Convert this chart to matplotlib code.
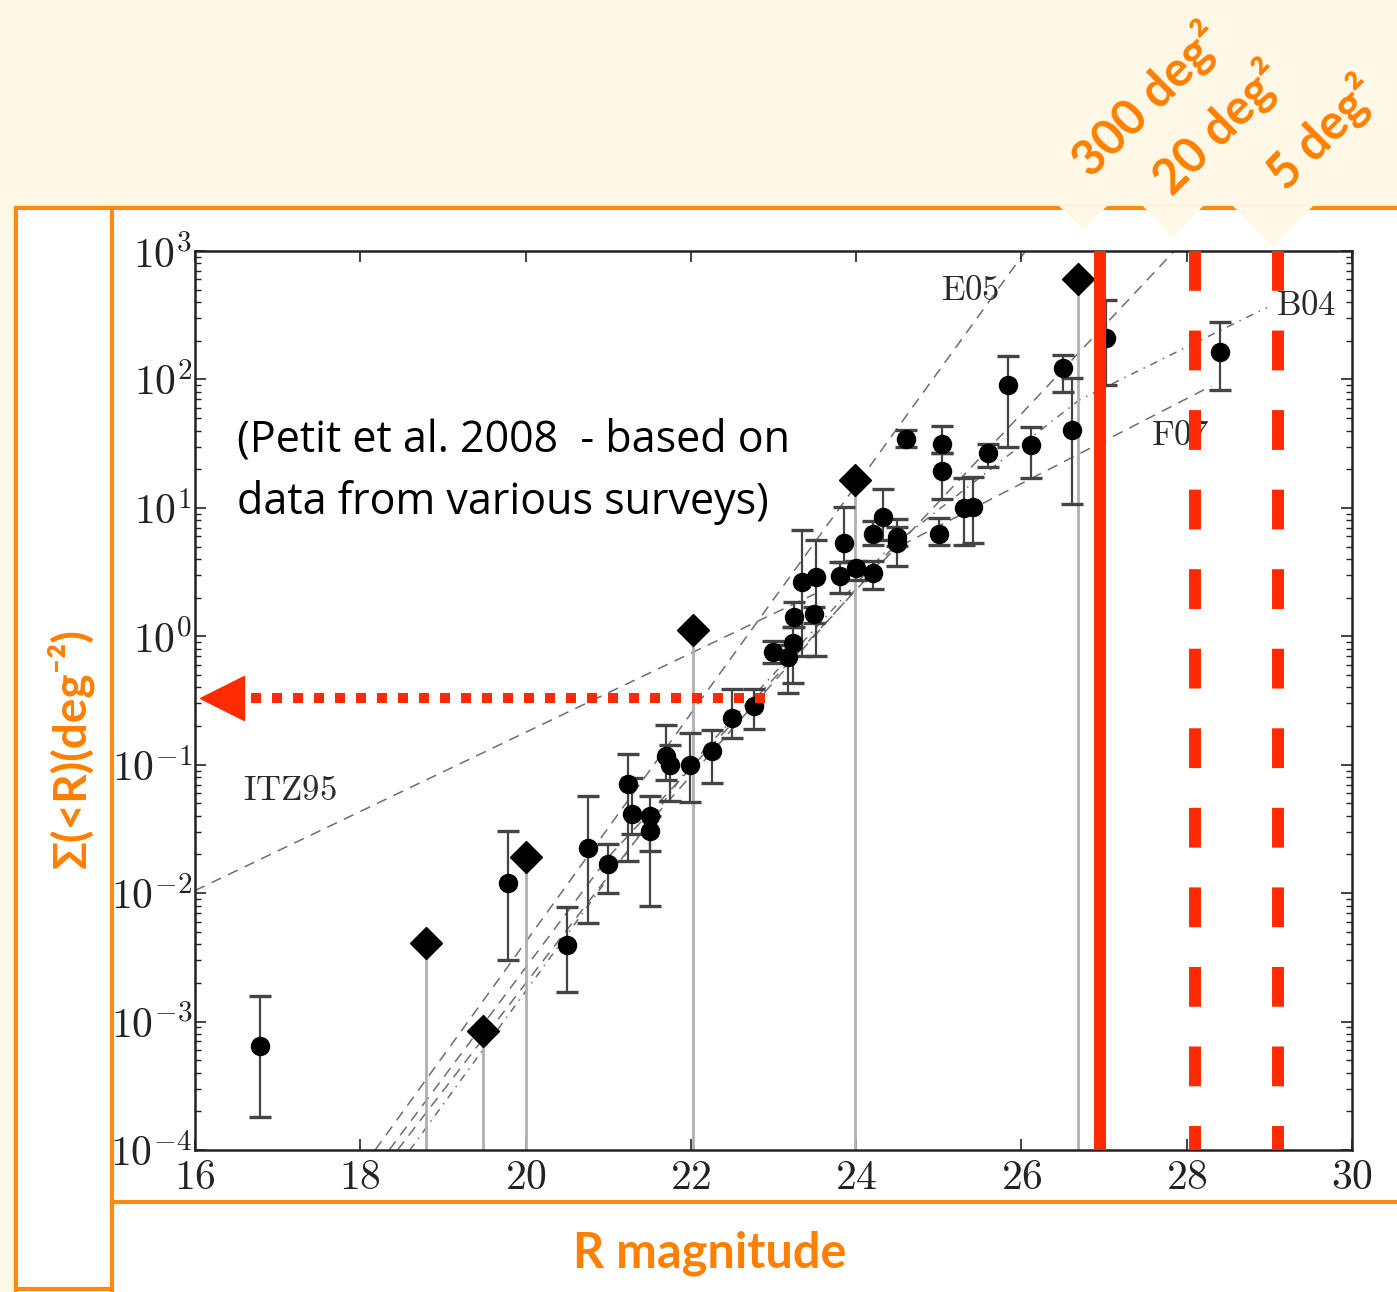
import numpy as np
import matplotlib
matplotlib.use("Agg")
import matplotlib.pyplot as plt
from matplotlib.patches import Rectangle, Polygon
from matplotlib.lines import Line2D
from matplotlib.ticker import FixedLocator, FuncFormatter, LogLocator, NullFormatter

plt.rcParams['mathtext.fontset'] = 'cm'

# ---- data (R magnitude, log10 of surface density) ----
circ_m = [16.79, 19.79, 20.50, 20.76, 21.00, 21.24, 21.29, 21.51, 21.51, 21.70,
          21.75, 21.99, 22.26, 22.50, 22.76, 23.00, 23.17, 23.24, 23.25, 23.35,
          23.51, 23.49, 23.80, 23.85, 24.00, 24.20, 24.21, 24.33, 24.50, 24.50,
          24.60, 25.00, 25.04, 25.04, 25.30, 25.42, 25.60, 25.84, 26.11, 26.50,
          26.61, 27.02, 28.40]
circ_log = [-3.19, -1.92, -2.40, -1.65, -1.77, -1.15, -1.38, -1.40, -1.52, -0.93,
            -1.00, -1.00, -0.89, -0.64, -0.54, -0.12, -0.16, -0.05, 0.15, 0.42,
            0.46, 0.17, 0.47, 0.73, 0.53, 0.49, 0.80, 0.93, 0.73, 0.77,
            1.54, 0.80, 1.29, 1.50, 1.00, 1.01, 1.43, 1.96, 1.49, 2.09,
            1.61, 2.32, 2.21]
circ_log_hi = [-2.80, -1.52, -2.11, -1.24, -1.62, -0.92, -1.10, -1.24, -1.40, -0.69,
               -0.85, -0.75, -0.73, -0.41, -0.41, -0.04, -0.07, 0.07, 0.27, 0.83,
               0.75, 0.23, 0.58, 1.01, 0.59, 0.59, 0.90, 1.15, 0.91, 0.85,
               1.61, 0.92, 1.43, 1.64, 1.23, 1.24, 1.50, 2.18, 1.63, 2.19,
               2.01, 2.62, 2.45]
circ_log_lo = [-3.74, -2.52, -2.77, -2.23, -2.00, -1.75, -1.54, -1.67, -2.10, -1.12,
               -1.28, -1.29, -1.14, -0.79, -0.72, -0.21, -0.44, -0.36, 0.07, -0.15,
               -0.15, 0.10, 0.34, 0.58, 0.44, 0.37, 0.71, 0.75, 0.55, 0.70,
               1.47, 0.71, 1.07, 1.43, 0.71, 0.73, 1.32, 1.47, 1.23, 1.90,
               1.03, 1.96, 1.92]

dia_m = [18.80, 19.49, 20.00, 22.02, 23.99, 26.69]
dia_log = [-2.39, -3.07, -1.72, 0.05, 1.22, 2.78]

# model curves (anchor points)
itz_m, itz_log = [16.0, 23.5], [-1.98, 0.33]
e05_m, e05_log = [18.18, 26.05], [-4.0, 3.0]
c_m, c_log = [18.35, 21.0, 24.07, 27.85], [-4.0, -1.72, 0.41, 3.0]
b04_m, b04_log = [18.6, 22.0, 24.37, 26.7, 28.97], [-4.0, -1.0, 0.67, 1.84, 2.56]
f07_m, f07_log = [18.45, 21.5, 24.4, 28.3], [-4.0, -1.45, 0.66, 1.95]

labels = ['E05', 'ITZ95', 'F07', 'B04']
label_m = [25.38, 17.15, 27.92, 29.44]
label_log = [2.70, -1.20, 1.57, 2.58]

survey_m = [26.95, 28.1, 29.1]
survey_names = ['300 deg²', '20 deg²', '5 deg²']
arrow_m = [22.9, 16.55]
arrow_level = 0.33

x_ticks = [16, 18, 20, 22, 24, 26, 28, 30]

# ---- styling ----
W, H = 1397, 1292
CREAM = '#fff8e6'
ORANGE = '#ff8a10'
TXT_OR = '#ff8000'
RED = '#ff2a00'


def fx(p):
    return p / W


def fy(p):
    return 1 - p / H


fig = plt.figure(figsize=(W / 100, H / 100), dpi=100, facecolor=CREAM)

fig.add_artist(Rectangle((fx(16), fy(1292)), fx(1397) - fx(16), fy(208) - fy(1292),
                         facecolor='white', edgecolor='none',
                         transform=fig.transFigure, zorder=-5))
for xs, ys in [((16, 1397), (208, 208)), ((16, 16), (208, 1292)),
               ((112, 112), (208, 1292)), ((16, 112), (1289, 1289)),
               ((112, 1397), (1202, 1202))]:
    fig.add_artist(Line2D([fx(v) for v in xs], [fy(v) for v in ys], color=ORANGE,
                          lw=3, transform=fig.transFigure, zorder=-4))
# callout notches under the survey labels
for cx, hw, tip in [(1083, 24, 230), (1173, 30, 238), (1273, 40, 246)]:
    fig.add_artist(Polygon([(fx(cx - hw), fy(206)), (fx(cx + hw), fy(206)),
                            (fx(cx), fy(tip))], closed=True, facecolor=CREAM,
                           edgecolor='none', transform=fig.transFigure, zorder=-3))

ax = fig.add_axes([fx(195), fy(1150), fx(1352) - fx(195), fy(251) - fy(1150)])
ax.set_facecolor('white')

# model lines
dash_kw = dict(color='#6e6e6e', lw=1.1, zorder=1)
ax.plot(itz_m, 10 ** np.array(itz_log), dashes=(7, 5), **dash_kw)
ax.plot(e05_m, 10 ** np.array(e05_log), dashes=(7, 5), **dash_kw)
ax.plot(c_m, 10 ** np.array(c_log), dashes=(7, 5), **dash_kw)
ax.plot(f07_m, 10 ** np.array(f07_log), dashes=(7, 5), **dash_kw)
ax.plot(b04_m, 10 ** np.array(b04_log), dashes=(5, 4, 1, 4), **dash_kw)

for t, m, lg in zip(labels, label_m, label_log):
    ax.text(m, 10 ** lg, r'$\mathrm{%s}$' % t, fontsize=25, color='#2a2a2a',
            ha='center', va='center', zorder=2)

# data
cv = 10 ** np.array(circ_log)
chi = 10 ** np.array(circ_log_hi)
clo = 10 ** np.array(circ_log_lo)
ax.errorbar(circ_m, cv, yerr=[cv - clo, chi - cv], fmt='o', color='black', ms=13,
            ecolor='#444444', elinewidth=1.6, capsize=8, capthick=2.4, zorder=3)
dv = 10 ** np.array(dia_log)
ax.vlines(dia_m, 1e-4, dv, color='#b0b0b0', lw=2, zorder=2)
ax.plot(dia_m, dv, 'D', color='black', ms=16, zorder=4)

# survey limits
ax.plot([survey_m[0]] * 2, [1e3, 1e-4], color=RED, lw=8.6, zorder=6,
        solid_capstyle='butt')
for m in survey_m[1:]:
    ax.plot([m, m], [1e3, 1e-4], color=RED, lw=8.6, dashes=(3.33, 3.33),
            dash_capstyle='butt', zorder=6)

ax.plot(arrow_m, [arrow_level] * 2, color=RED, lw=7.2, linestyle=(0, (1.0, 1.1)),
        dash_capstyle='butt', zorder=6)
ax.plot([16.33], [arrow_level], marker='<', ms=32, color=RED, mec=RED, zorder=7)

ax.set_xlim(16, 30)
ax.set_yscale('log')
ax.set_ylim(1e-4, 1e3)
ax.xaxis.set_major_locator(FixedLocator(x_ticks))
ax.xaxis.set_major_formatter(FuncFormatter(lambda v, p: r'$%d$' % v))
ax.yaxis.set_major_locator(LogLocator(base=10, numticks=20))
ax.yaxis.set_minor_locator(LogLocator(base=10, subs=np.arange(2, 10), numticks=20))
ax.yaxis.set_minor_formatter(NullFormatter())
ax.yaxis.set_major_formatter(FuncFormatter(lambda v, p: r'$10^{%d}$' % round(np.log10(v))))
ax.tick_params(which='both', direction='in', top=True, right=True, colors='#222222',
               labelsize=30)
ax.tick_params(which='major', length=8, width=1.2)
ax.tick_params(which='minor', length=4, width=1)
ax.tick_params(axis='y', pad=2)
ax.tick_params(axis='x', pad=4)
for s in ax.spines.values():
    s.set_linewidth(1.8)
    s.set_color('#222222')

# texts
fig.text(fx(237), fy(440), '(Petit et al. 2008  - based on', fontsize=31,
         family='Open Sans', va='center', ha='left')
fig.text(fx(237), fy(502), 'data from various surveys)', fontsize=31,
         family='Open Sans', va='center', ha='left')
fig.text(fx(70), fy(748), 'Σ(<R)(deg⁻²)', rotation=90, color=TXT_OR, fontsize=33,
         fontweight='bold', ha='center', va='center', family=['Lato', 'DejaVu Sans'])
fig.text(fx(710), fy(1253), 'R magnitude', color=TXT_OR, fontsize=35,
         fontweight='bold', ha='center', va='center', family='Lato')
for name, (cx, cy) in zip(survey_names, [(1147, 100), (1218, 128), (1322, 133)]):
    fig.text(fx(cx), fy(cy), name, rotation=45, rotation_mode='anchor', color=TXT_OR,
             fontsize=35, fontweight='bold', ha='center', va='center',
             family=['Lato', 'DejaVu Sans'])

fig.savefig('out.png', dpi=100, facecolor=CREAM)
